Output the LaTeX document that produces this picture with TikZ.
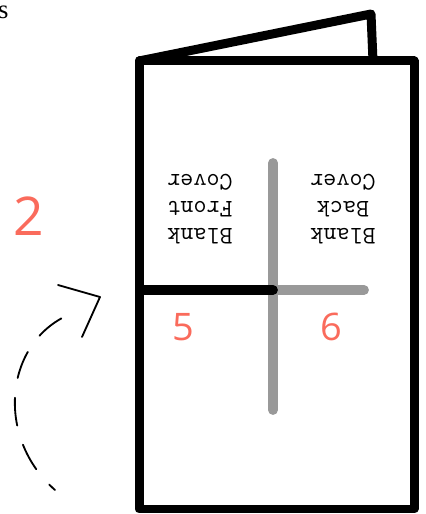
\documentclass[tikz,border=0pt]{standalone}
\usepackage{fontspec}
\usepackage{tikz}
\usetikzlibrary{arrows.meta,positioning}
\newfontfamily\numfont{Open Sans}
\newfontfamily\edgefont{Liberation Serif}
\definecolor{pgred}{HTML}{FA6B5C}
\definecolor{creasegray}{HTML}{999999}

\begin{document}
\begin{tikzpicture}[
  sheet/.style={draw=black, line width=6.4pt, line join=round},
  crease/.style={draw=creasegray, line width=7pt, line cap=round},
  fold/.style={draw=black, line width=7pt, line cap=round},
  cover/.style={font=\ttfamily\fontsize{18}{19}\selectfont, align=center,
                rotate=180, inner sep=0pt},
  pagenum/.style={font=\numfont\fontsize{27}{27}\selectfont, text=pgred, inner sep=0pt},
  turn/.style={draw=black, line width=1.3pt, line cap=round, line join=round},
]
  \useasboundingbox (0,0) rectangle (10.625,12.85);

  % folded booklet
  \coordinate (tl) at (3.475,11.325);
  \coordinate (br) at (10.35,0.125);
  \coordinate (flaptop) at (9.275,12.5);
  \coordinate (flapfoot) at (9.325,11.325);
  \draw[sheet] (flapfoot) -- (flaptop) -- (tl);
  \draw[sheet] (tl) rectangle (br);

  % creases
  \coordinate (vtop) at (6.825,8.775);
  \coordinate (vbot) at (6.825,2.6);
  \coordinate (mid) at (6.825,5.6);
  \coordinate (hleft) at (3.6,5.6);
  \coordinate (hright) at (9.1,5.6);
  \draw[crease] (vtop) -- (vbot);
  \draw[crease] (mid) -- (hright);
  \draw[fold] (hleft) -- (mid);

  % upside-down cover texts
  \node[cover] (front) at (5.0,7.62) {Blank\\Front\\Cover};
  \node[cover] (back) at (8.575,7.62) {Blank\\Back\\Cover};

  % page numbers
  \node[pagenum] (p5) at (4.575,4.675) {5};
  \node[pagenum] (p6) at (8.275,4.675) {6};
  \node[pagenum, font=\numfont\fontsize{38}{38}\selectfont] (p2) at (0.72,7.45) {2};

  % cropped caption letter
  \node[font=\edgefont\fontsize{19}{19}\selectfont, inner sep=0pt] (cut) at (0.08,12.53) {s};

  % turning arrow
  \coordinate (turnstart) at (1.375,0.6);
  \coordinate (turnend) at (1.65,4.95);
  \coordinate (tip) at (2.5,5.425);
  \draw[turn, dash pattern=on 0.7cm off 0.5cm, dash phase=0.5cm]
    (turnstart) .. controls (-0.1,1.9) and (0.1,4.2) .. (turnend);
  \draw[turn] (1.45,5.725) -- (tip) -- (2.05,4.425);
\end{tikzpicture}
\end{document}
